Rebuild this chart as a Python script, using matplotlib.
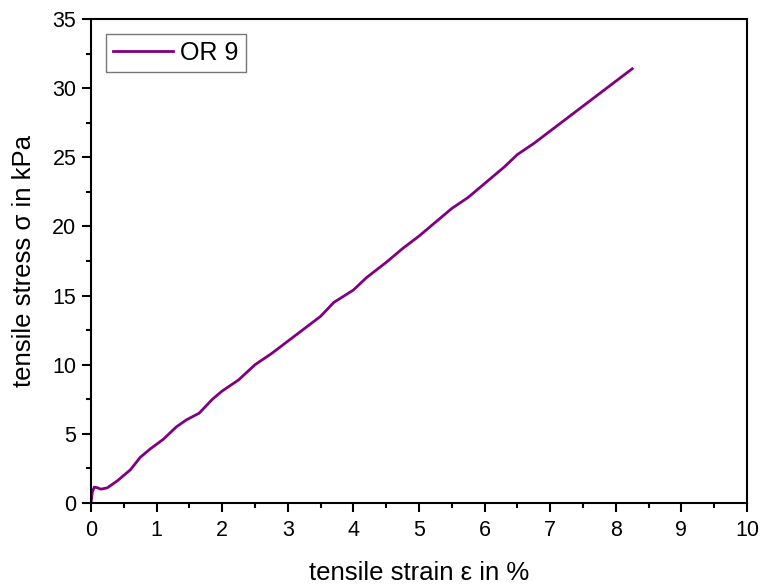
import matplotlib
matplotlib.use("Agg")
import matplotlib.pyplot as plt
from matplotlib.ticker import MultipleLocator

# tensile test curve
strain = [0.0, 0.02, 0.05, 0.1, 0.15, 0.25, 0.4, 0.6, 0.75, 0.9, 1.1, 1.3, 1.45,
          1.65, 1.85, 2.0, 2.25, 2.5, 2.75, 3.0, 3.25, 3.5, 3.7, 4.0, 4.2, 4.5,
          4.75, 5.0, 5.25, 5.5, 5.75, 6.0, 6.3, 6.5, 6.75, 7.0, 7.25, 7.5, 7.75,
          8.0, 8.25]
stress = [0.0, 0.8, 1.15, 1.1, 1.0, 1.1, 1.6, 2.4, 3.3, 3.9, 4.6, 5.5, 6.0,
          6.5, 7.5, 8.1, 8.9, 10.0, 10.8, 11.7, 12.6, 13.5, 14.5, 15.4, 16.3, 17.4,
          18.4, 19.3, 20.3, 21.3, 22.1, 23.1, 24.3, 25.2, 26.0, 26.9, 27.8, 28.7, 29.6,
          30.5, 31.4]

plt.rcParams['font.family'] = ['Liberation Sans', 'DejaVu Sans']

fig = plt.figure(figsize=(7.6, 5.86), dpi=100)
ax = fig.add_axes([91/760, 1 - 503/586, (747-91)/760, (503-19)/586])

ax.plot(strain, stress, color='#800080', lw=2, label='OR 9')

ax.set_xlim(0, 10)
ax.set_ylim(0, 35)
ax.xaxis.set_major_locator(MultipleLocator(1))
ax.xaxis.set_minor_locator(MultipleLocator(0.5))
ax.yaxis.set_major_locator(MultipleLocator(5))
ax.yaxis.set_minor_locator(MultipleLocator(2.5))
ax.tick_params(which='both', direction='out', top=False, right=False,
               width=1.5, labelsize=15.5)
ax.tick_params(which='major', length=6.5)
ax.tick_params(which='minor', length=3.5)
ax.tick_params(axis='x', pad=6)
ax.tick_params(axis='y', pad=4)
for s in ax.spines.values():
    s.set_linewidth(1.5)

ax.set_xlabel('tensile strain ε in %', fontsize=18.5, labelpad=14)
ax.set_ylabel('tensile stress σ in kPa', fontsize=18.5, labelpad=12)

leg = ax.legend(loc='upper left', fontsize=18, frameon=True, fancybox=False,
                edgecolor='#555555', handlelength=2.4, handletextpad=0.3,
                borderpad=0.28, borderaxespad=0.6)
leg.get_frame().set_linewidth(1)

fig.savefig('out.png', dpi=100)
